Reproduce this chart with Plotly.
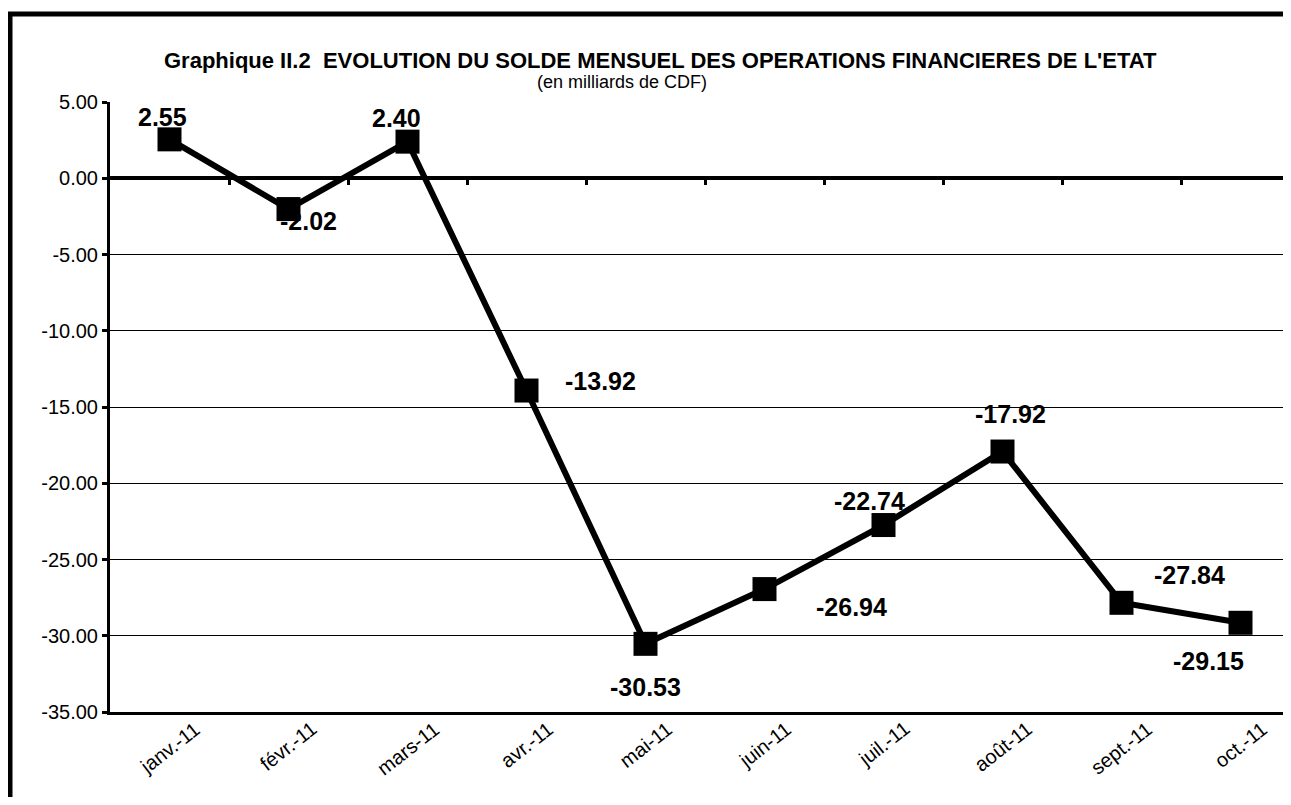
import plotly.graph_objects as go

months = ["janv.-11", "févr.-11", "mars-11", "avr.-11", "mai-11",
          "juin-11", "juil.-11", "août-11", "sept.-11", "oct.-11"]
solde = [2.55, -2.02, 2.40, -13.92, -30.53, -26.94, -22.74, -17.92, -27.84, -29.15]
label_text = ["2.55", "-2.02", "2.40", "-13.92", "-30.53",
              "-26.94", "-22.74", "-17.92", "-27.84", "-29.15"]
y_ticks = [5, 0, -5, -10, -15, -20, -25, -30, -35]

# label pixel offsets (dx, dy) from each marker
label_dx = [-7, 20, -11, 74, 0, 87, -14, 8, 68, -32]
label_dy = [-22, 12, -24, -10, 43, 18, -24, -38, -28, 38]

FONT = "Liberation Sans, Arial, sans-serif"
OFF = 8  # page body offset
W, H = 1291 - 2 * OFF, 805 - 2 * OFF
ML, MT = 110 - OFF, 102 - OFF
MB = H - (712 - OFF)
plot_w = W - ML
plot_h = 610
n = len(months)
x_right = (n - 0.5) - (1300 - (W + OFF)) / 119.0


def px_x(page_x):
    return (page_x - OFF - ML) / plot_w


def px_y(page_y):
    return 1 + ((102 - page_y) / plot_h)


fig = go.Figure()
fig.add_trace(go.Scatter(
    x=months, y=solde, mode="lines+markers",
    line=dict(color="black", width=6),
    marker=dict(symbol="square", size=24, color="black"),
    showlegend=False, cliponaxis=False, xaxis="x", yaxis="y"))

# invisible trace for the category boundary tick axis
fig.add_trace(go.Scatter(x=[0], y=[0], mode="markers", marker=dict(opacity=0),
                         xaxis="x2", yaxis="y", showlegend=False, hoverinfo="skip"))

annotations = []
for m, v, t, dx, dy in zip(months, solde, label_text, label_dx, label_dy):
    annotations.append(dict(x=m, y=v, xref="x", yref="y", text="<b>%s</b>" % t,
                            showarrow=False, xshift=dx, yshift=-dy,
                            xanchor="center", yanchor="middle",
                            font=dict(family=FONT, size=25, color="black")))
for m in months:
    annotations.append(dict(x=m, y=0, xref="x", yref="paper", text=m,
                            showarrow=False, textangle=-38, xanchor="center",
                            yanchor="top", yshift=-3,
                            font=dict(family=FONT, size=20, color="black")))
annotations.append(dict(x=px_x(660), y=px_y(61), xref="paper", yref="paper",
                        xanchor="center", yanchor="middle",
                        text="<b>Graphique II.2  EVOLUTION DU SOLDE MENSUEL DES OPERATIONS FINANCIERES DE L'ETAT</b>",
                        showarrow=False, font=dict(family=FONT, size=22, color="black")))
annotations.append(dict(x=px_x(622), y=px_y(82), xref="paper", yref="paper",
                        xanchor="center", yanchor="middle",
                        text="(en milliards de CDF)", showarrow=False,
                        font=dict(family=FONT, size=18, color="black")))

frame_line = dict(color="black", width=5)
fig.update_layout(
    width=W, height=H,
    margin=dict(l=ML, r=0, t=MT, b=MB),
    paper_bgcolor="white", plot_bgcolor="white",
    showlegend=False,
    annotations=annotations,
    xaxis=dict(type="category", range=[-0.5, x_right], showticklabels=False,
               showgrid=False, zeroline=False, showline=True, linecolor="black",
               linewidth=3, ticks=""),
    xaxis2=dict(type="linear", overlaying="x", anchor="free", position=35 / 40,
                range=[-0.5, x_right], tickvals=[i + 0.5 for i in range(n - 1)],
                ticks="outside", ticklen=6, tickwidth=3, tickcolor="black",
                showticklabels=False, showgrid=False, zeroline=False, showline=False),
    yaxis=dict(range=[-35, 5], tickvals=y_ticks, ticktext=["%.2f" % v for v in y_ticks],
               showgrid=True, gridcolor="black", gridwidth=1,
               zeroline=True, zerolinecolor="black", zerolinewidth=4,
               showline=True, linecolor="black", linewidth=3,
               ticks="outside", ticklen=5, tickwidth=3, tickcolor="black",
               tickfont=dict(family=FONT, size=20, color="black")),
    shapes=[
        dict(type="line", xref="paper", yref="paper",
             x0=px_x(8), x1=1.0, y0=px_y(14), y1=px_y(14), line=frame_line, layer="below"),
        dict(type="line", xref="paper", yref="paper",
             x0=px_x(10), x1=px_x(10), y0=px_y(12), y1=px_y(805), line=frame_line, layer="below"),
    ],
)

fig.write_html("out.html")
